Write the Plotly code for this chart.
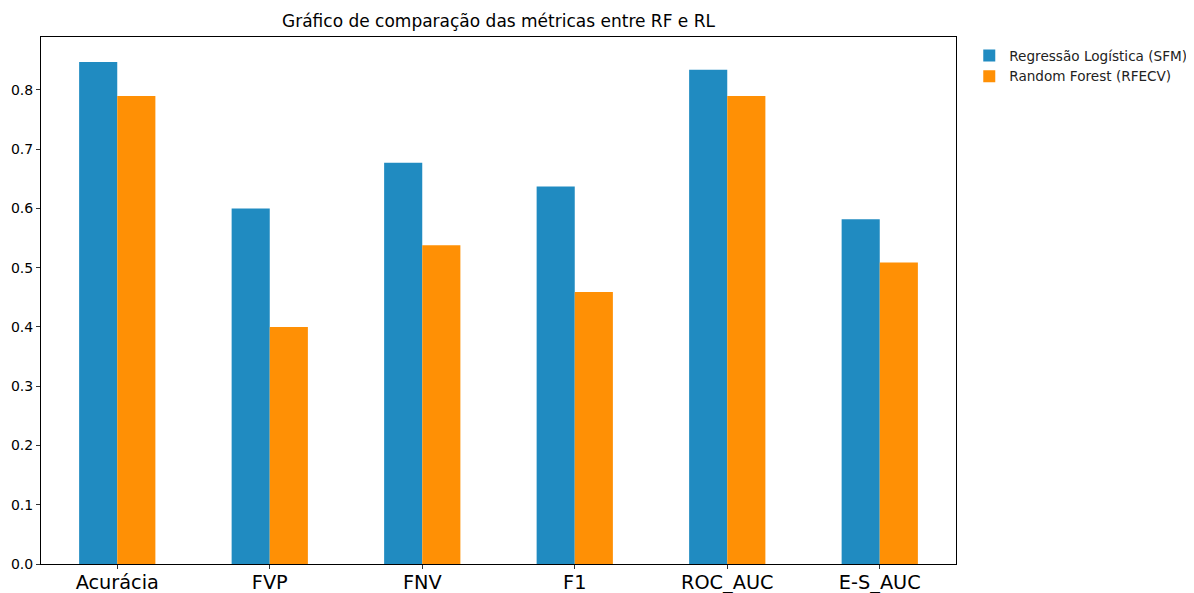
import plotly.graph_objects as go

categories = ["Acurácia", "FVP", "FNV", "F1", "ROC_AUC", "E-S_AUC"]
rl_values = [0.847, 0.600, 0.677, 0.637, 0.834, 0.582]
rf_values = [0.790, 0.400, 0.538, 0.459, 0.790, 0.509]
series_names = ["Regressão Logística (SFM)", "Random Forest (RFECV)"]
y_ticks = [0.0, 0.1, 0.2, 0.3, 0.4, 0.5, 0.6, 0.7, 0.8]
title_text = "Gráfico de comparação das métricas entre RF e RL"

fig = go.Figure()
fig.add_trace(go.Bar(x=categories, y=rl_values, name=series_names[0],
                     marker=dict(color="#208BC1", line=dict(width=0))))
fig.add_trace(go.Bar(x=categories, y=rf_values, name=series_names[1],
                     marker=dict(color="#FF9005", line=dict(width=0))))

font = "DejaVu Sans, sans-serif"
fig.update_layout(
    width=1186, height=585,
    barmode="group", bargap=0.5, bargroupgap=0,
    plot_bgcolor="white", paper_bgcolor="white",
    margin=dict(l=33, r=238, t=29, b=29, autoexpand=False),
    font=dict(family=font, color="black"),
    legend=dict(x=1.0145, y=0.994, xanchor="left", yanchor="top",
                font=dict(size=13.6, family=font, color="#222"),
                bgcolor="rgba(255,255,255,0)", tracegroupgap=0),
    showlegend=True,
)
fig.add_annotation(text=title_text, x=0.5, xref="paper", xanchor="center",
                   y=1, yref="paper", yanchor="bottom", yshift=4, showarrow=False,
                   font=dict(size=17, family=font, color="black"))
fig.update_xaxes(range=[-0.5, 5.5], showline=True, linecolor="black", linewidth=1,
                 mirror=True, ticks="outside", ticklen=4, tickcolor="#333",
                 automargin=False, ticklabelstandoff=-3,
                 tickfont=dict(size=19.3, family=font, color="black"), showgrid=False)
fig.update_yaxes(range=[0, 0.8894], showline=True, linecolor="black", linewidth=1,
                 mirror=True, ticks="outside", ticklen=4, tickcolor="#333",
                 tickvals=y_ticks, tickformat=".1f", automargin=False,
                 tickfont=dict(size=14, family=font, color="black"),
                 showgrid=False, zeroline=False)

fig.write_html("out.html")
